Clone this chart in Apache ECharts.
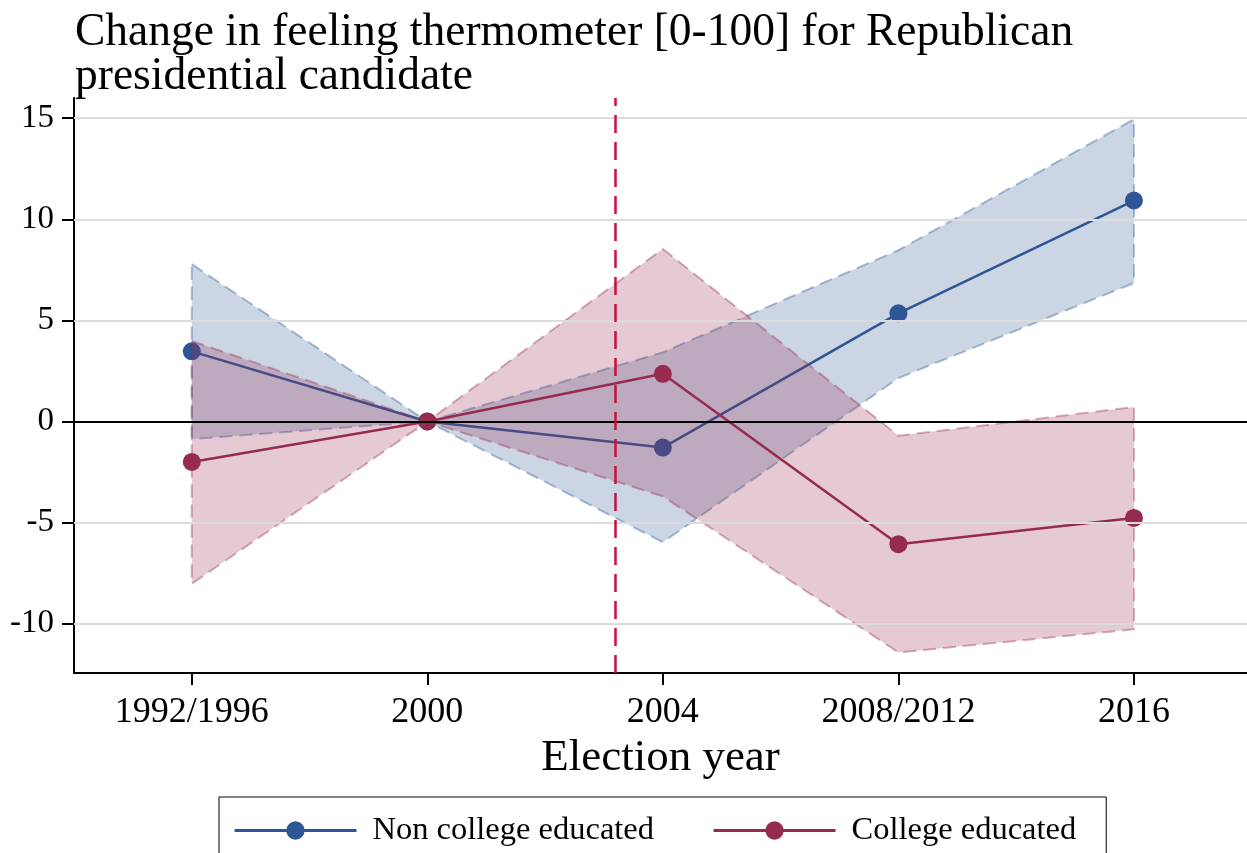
<!DOCTYPE html>
<html>
<head>
<meta charset="utf-8">
<script src="https://cdn.jsdelivr.net/npm/echarts@6/dist/echarts.min.js"></script>
<style>
html,body{margin:0;padding:0;background:#fff;}
#chart{width:1247px;height:853px;}
</style>
</head>
<body>
<div id="chart"></div>
<script>
// ---- data ----
const categories = ['1992/1996', '2000', '2004', '2008/2012', '2016'];
const nonCollege = [3.47, 0, -1.29, 5.35, 10.93];
const nonCollegeLower = [-0.87, 0, -5.97, 2.15, 6.85];
const nonCollegeUpper = [7.78, 0, 3.42, 8.47, 14.95];
const college = [-2.0, 0, 2.36, -6.07, -4.77];
const collegeLower = [-8.03, 0, -3.7, -11.42, -10.28];
const collegeUpper = [3.98, 0, 8.53, -0.71, 0.72];
const yTicks = [-10, -5, 0, 5, 10, 15];
const gridValues = [-10, -5, 5, 10, 15];
const referenceX = 1.8;
const seriesNames = ['Non college educated', 'College educated'];
const titleText = 'Change in feeling thermometer [0-100] for Republican\npresidential candidate';

const FONT = "'Liberation Serif', 'Times New Roman', serif";
const BLUE = '#2e5694';
const RED = '#962b50';

const xIdx = categories.map((c, i) => i);

function band(name, lower, upper, fill, stroke, z) {
  return {
    type: 'custom',
    name: name,
    z: z,
    silent: true,
    data: xIdx.map(i => [i, lower[i], upper[i]]),
    encode: { x: 0, y: [1, 2] },
    renderItem: function (params, api) {
      if (params.dataIndex !== 0) return;
      const pts = [];
      for (let i = 0; i < xIdx.length; i++) pts.push(api.coord([xIdx[i], upper[i]]));
      for (let i = xIdx.length - 1; i >= 0; i--) pts.push(api.coord([xIdx[i], lower[i]]));
      return {
        type: 'polygon',
        shape: { points: pts },
        style: { fill: fill, stroke: stroke, lineWidth: 2, lineDash: [13, 7] }
      };
    }
  };
}

const chart = echarts.init(document.getElementById('chart'), null, { renderer: 'canvas' });
chart.setOption({
  backgroundColor: '#fff',
  animation: false,
  textStyle: { fontFamily: FONT },
  title: {
    text: titleText,
    left: 70,
    top: 6,
    textStyle: { fontFamily: FONT, fontSize: 45.5, fontWeight: 'normal', color: '#000', lineHeight: 44 }
  },
  grid: { left: 74, right: 0, top: 98, bottom: 180, containLabel: false },
  legend: {
    data: seriesNames,
    left: 219,
    top: 797,
    orient: 'horizontal',
    borderColor: '#000',
    borderWidth: 1,
    padding: [17, 30, 40, 14],
    itemWidth: 122,
    itemHeight: 23,
    itemGap: 58,
    lineStyle: { width: 3 },
    textStyle: { fontFamily: FONT, fontSize: 32.5, color: '#000', padding: [0, 0, 0, 11] }
  },
  xAxis: {
    type: 'value',
    min: -0.5,
    max: 4.48,
    name: 'Election year',
    nameLocation: 'middle',
    nameGap: 62,
    nameTextStyle: { fontFamily: FONT, fontSize: 45, color: '#000' },
    axisLine: { show: true, onZero: false, lineStyle: { color: '#000', width: 2 } },
    axisTick: { show: true, customValues: xIdx, length: 12, lineStyle: { color: '#000', width: 2 } },
    axisLabel: {
      customValues: xIdx,
      formatter: v => categories[Math.round(v)],
      fontFamily: FONT, fontSize: 36, color: '#000', margin: 22
    },
    splitLine: { show: false }
  },
  yAxis: {
    type: 'value',
    min: -12.44,
    max: 16,
    axisLine: { show: true, onZero: false, lineStyle: { color: '#000', width: 2 } },
    axisTick: { show: true, customValues: yTicks, length: 12, lineStyle: { color: '#000', width: 2 } },
    axisLabel: {
      customValues: yTicks,
      fontFamily: FONT, fontSize: 33, color: '#000', margin: 20
    },
    splitLine: { show: false }
  },
  series: [
    {
      type: 'line',
      name: 'gridlines',
      z: 0,
      data: [],
      silent: true,
      markLine: {
        silent: true,
        symbol: ['none', 'none'],
        label: { show: false },
        animation: false,
        data: gridValues.map(v => ({ yAxis: v, lineStyle: { color: '#dcdcdc', width: 2, type: 'solid' } }))
          .concat([{ yAxis: 0, lineStyle: { color: '#000', width: 2, type: 'solid' } }])
      }
    },
    band('Non college CI', nonCollegeLower, nonCollegeUpper, 'rgba(46,86,148,0.25)', 'rgba(46,86,148,0.38)', 1),
    {
      type: 'line',
      name: seriesNames[0],
      z: 2,
      data: xIdx.map(i => [i, nonCollege[i]]),
      symbol: 'circle',
      symbolSize: 18,
      color: BLUE,
      itemStyle: { color: BLUE },
      lineStyle: { color: BLUE, width: 2.5 }
    },
    band('College CI', collegeLower, collegeUpper, 'rgba(150,43,80,0.25)', 'rgba(150,43,80,0.38)', 3),
    {
      type: 'line',
      name: seriesNames[1],
      z: 4,
      data: xIdx.map(i => [i, college[i]]),
      symbol: 'circle',
      symbolSize: 18,
      color: RED,
      itemStyle: { color: RED },
      lineStyle: { color: RED, width: 2.5 },
      markLine: {
        silent: true,
        symbol: ['none', 'none'],
        label: { show: false },
        animation: false,
        data: [{ xAxis: referenceX }],
        lineStyle: { color: '#c8103e', width: 2.5, type: [18, 9] }
      }
    }
  ]
});
</script>
</body>
</html>
